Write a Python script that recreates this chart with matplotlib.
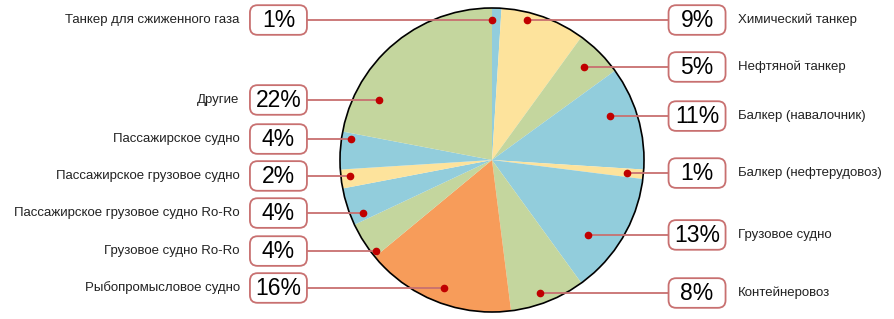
import matplotlib
matplotlib.use("Agg")
import matplotlib.pyplot as plt
from matplotlib.patches import Circle, FancyBboxPatch
import numpy as np

# slices clockwise from 12 o'clock
categories = [
    "Танкер для сжиженного газа", "Химический танкер", "Нефтяной танкер",
    "Балкер (навалочник)", "Балкер (нефтерудовоз)", "Грузовое судно",
    "Контейнеровоз", "Рыбопромысловое судно", "Грузовое судно Ro-Ro",
    "Пассажирское грузовое судно Ro-Ro", "Пассажирское грузовое судно",
    "Пассажирское судно", "Другие",
]
shares = [1, 9, 5, 11, 1, 13, 8, 16, 4, 4, 2, 4, 22]

GREEN = "#c4d69e"
YELLOW = "#fde39c"
BLUE = "#92cddc"
ORANGE = "#f79c5a"
slice_colors = [BLUE, YELLOW, GREEN, BLUE, YELLOW, BLUE, GREEN, ORANGE,
                GREEN, BLUE, YELLOW, BLUE, GREEN]

# layout: which side the label sits, label row height, radial spot of the dot
sides = ["L", "R", "R", "R", "R", "R", "R", "L", "L", "L", "L", "L", "L"]
label_y = [0.921, 0.921, 0.612, 0.289, -0.086, -0.493, -0.875,
           -0.842, -0.599, -0.349, -0.105, 0.138, 0.395]
dot_r = [0.92, 0.95, 0.86, 0.83, 0.89, 0.80, 0.93,
         0.90, 0.97, 0.92, 0.94, 0.94, 0.84]

LINE_C = "#c87070"
BOX_C = "#c87070"
DOT_C = "#c00000"
FONT = ["Liberation Sans Narrow", "Liberation Sans", "DejaVu Sans"]

W, H = 895, 319
PX = 152.0           # pixels per unit radius
CX, CY = 492, 160    # pie centre in pixels

fig = plt.figure(figsize=(W / 100, H / 100), dpi=100)
ax = fig.add_axes([0, 0, 1, 1])
ax.pie(shares, colors=slice_colors, startangle=90, counterclock=False,
       radius=1.0, wedgeprops=dict(linewidth=0))
ax.add_patch(Circle((0, 0), 1.0, fill=False, edgecolor="black", lw=1.2, zorder=3))

box_w, box_h = 0.375, 0.195
rnd = 0.05
for i, (pct, side, y, r) in enumerate(zip(shares, sides, label_y, dot_r)):
    dx = np.sqrt(max(r ** 2 - y ** 2, 0))
    if side == "L":
        xd = -dx
        bx = -1.405
        ax.plot([bx + box_w / 2, xd], [y, y], color=LINE_C, lw=1.3, zorder=4)
        ax.text(-1.66, y, categories[i], ha="right", va="center",
                fontsize=9.5, family=FONT, color="#222222")
    else:
        xd = dx
        bx = 1.349
        ax.plot([xd, bx - box_w / 2], [y, y], color=LINE_C, lw=1.3, zorder=4)
        ax.text(1.62, y, categories[i], ha="left", va="center",
                fontsize=9.5, family=FONT, color="#222222")
    ax.plot(xd, y, "o", color=DOT_C, ms=4.5, zorder=5)
    ax.add_patch(FancyBboxPatch((bx - box_w / 2 + rnd, y - box_h / 2 + rnd),
                                box_w - 2 * rnd, box_h - 2 * rnd,
                                boxstyle=f"round,pad={rnd}",
                                facecolor="white", edgecolor=BOX_C, lw=1.3,
                                zorder=4))
    ax.text(bx, y - 0.005, f"{pct}%", ha="center", va="center",
            fontsize=16.5, family=FONT, color="black", zorder=6)

ax.set_xlim(-CX / PX, (W - CX) / PX)
ax.set_ylim((CY - H) / PX, CY / PX)
ax.set_aspect("auto")
ax.axis("off")

fig.savefig("out.png", dpi=100)
